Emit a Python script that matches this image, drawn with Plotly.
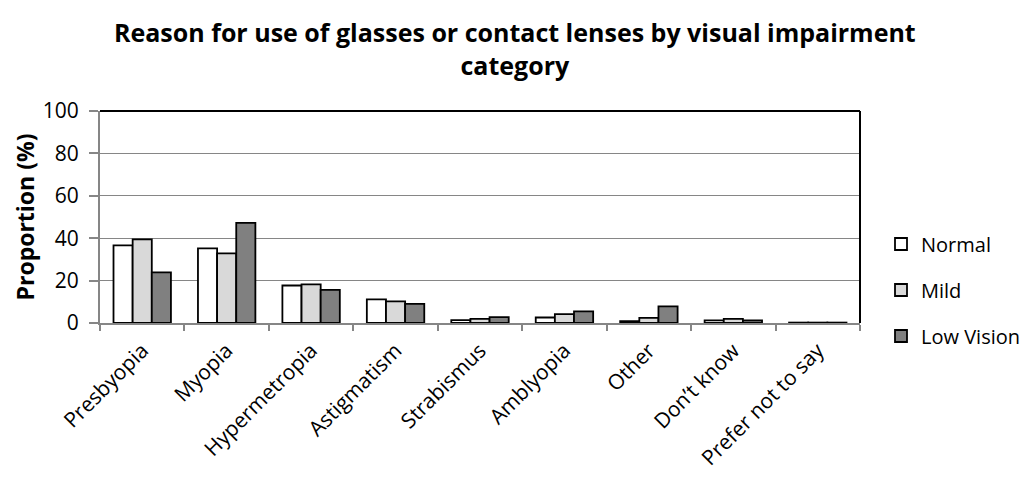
import plotly.graph_objects as go

categories = ["Presbyopia", "Myopia", "Hypermetropia", "Astigmatism", "Strabismus",
              "Amblyopia", "Other", "Don\u2019t know", "Prefer not to say"]
normal = [36.6, 35.2, 17.7, 11.1, 1.4, 2.6, 0.9, 1.2, 0.2]
mild = [39.4, 32.8, 18.2, 10.2, 1.9, 4.2, 2.4, 1.9, 0.2]
low_vision = [23.9, 47.2, 15.6, 9.0, 2.8, 5.5, 7.8, 1.2, 0.2]

series = [("Normal", normal, "#ffffff"),
          ("Mild", mild, "#d9d9d9"),
          ("Low Vision", low_vision, "#808080")]

FONT = "Open Sans"
W, H = 1029, 487
L, R, T, B = 100, 169, 111, 164
PW, PH = W - L - R, H - T - B

fig = go.Figure()
for i, (name, vals, color) in enumerate(series):
    fig.add_trace(go.Bar(
        x=categories, y=vals, name=name,
        marker=dict(color=color, line=dict(color="#000000", width=1.8)),
        legendgroup=f"g{i}",
    ))

fig.update_layout(
    width=W, height=H,
    margin=dict(l=L, r=R, t=T, b=B, autoexpand=False),
    paper_bgcolor="white", plot_bgcolor="white",
    barmode="group", bargap=0.32, bargroupgap=0,
    font=dict(family=FONT, color="#000000", size=20),
    showlegend=True,
    legend=dict(
        xref="container", yref="container",
        x=881 / W, xanchor="left", y=1 - 290 / H, yanchor="middle",
        traceorder="grouped", tracegroupgap=17,
        font=dict(family=FONT, size=20),
        bgcolor="rgba(0,0,0,0)", borderwidth=0,
    ),
    xaxis=dict(
        showline=True, linecolor="#868686", linewidth=2,
        ticks="outside", tickson="boundaries", ticklen=6, tickcolor="#868686", tickwidth=1.5,
        ticklabelstandoff=5,
        tickangle=-45, showgrid=False,
        tickfont=dict(family=FONT, size=21),
    ),
    yaxis=dict(
        range=[0, 100], dtick=20,
        showline=True, linecolor="#868686", linewidth=2,
        ticks="outside", ticklen=9, tickcolor="#868686", tickwidth=1.5,
        ticklabelstandoff=6,
        showgrid=True, gridcolor="#868686", gridwidth=1,
        zeroline=False,
        tickfont=dict(family=FONT, size=21),
        title=dict(text="<b>Proportion (%)</b>", font=dict(family=FONT, size=23), standoff=2),
    ),
)

# two-line chart title, centred on the whole figure
fig.add_annotation(
    text="<b>Reason for use of glasses or contact lenses by visual impairment<br>category</b>",
    xref="paper", yref="paper", x=(W / 2 - L) / PW, y=(H - B - 49) / PH,
    xanchor="center", yanchor="middle", showarrow=False,
    font=dict(family=FONT, size=25), align="center",
)

# black frame along the top and right edges of the plot area
fig.add_shape(type="line", xref="paper", yref="paper", x0=0, x1=1, y0=1, y1=1,
              line=dict(color="#000000", width=2))
fig.add_shape(type="line", xref="paper", yref="paper", x0=1, x1=1, y0=0, y1=1,
              line=dict(color="#000000", width=2))

fig.write_html("out.html")
